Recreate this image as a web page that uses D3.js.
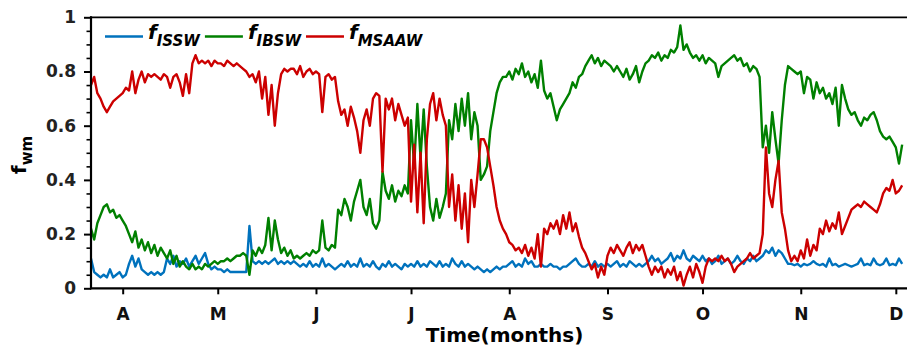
<!DOCTYPE html>
<html><head><meta charset="utf-8">
<script src="https://cdn.jsdelivr.net/npm/d3@7"></script>
<style>
body{margin:0;background:#fff}
svg{display:block}
text{font-family:"DejaVu Sans",sans-serif;font-weight:bold}
</style>
</head><body>
<svg id="chart" width="907" height="348"></svg>
<script>
// ---- data (daily values starting at startDate) ----
const startDate = Date.UTC(2015, 2, 22);
const seriesNames = ["ISSW", "IBSW", "MSAAW"];

const fISSW = [
 0.11,0.06,0.05,0.04,0.05,0.04,0.07,0.04,0.05,0.06,
 0.04,0.05,0.09,0.12,0.08,0.11,0.07,0.06,0.05,0.06,
 0.05,0.06,0.05,0.06,0.11,0.09,0.12,0.08,0.10,0.09,
 0.11,0.08,0.10,0.12,0.09,0.11,0.13,0.09,0.07,0.08,
 0.07,0.07,0.06,0.07,0.06,0.06,0.06,0.06,0.06,0.06,
 0.23,0.10,0.09,0.10,0.09,0.10,0.09,0.10,0.11,0.09,
 0.10,0.09,0.10,0.09,0.10,0.09,0.08,0.09,0.08,0.10,
 0.08,0.09,0.08,0.11,0.08,0.09,0.08,0.07,0.08,0.09,
 0.08,0.10,0.08,0.09,0.08,0.11,0.08,0.09,0.08,0.10,
 0.08,0.07,0.09,0.08,0.10,0.08,0.09,0.08,0.07,0.09,
 0.08,0.09,0.08,0.10,0.08,0.09,0.08,0.10,0.09,0.08,
 0.10,0.08,0.09,0.08,0.11,0.09,0.08,0.10,0.08,0.09,
 0.08,0.07,0.08,0.07,0.06,0.07,0.06,0.07,0.08,0.07,
 0.08,0.08,0.09,0.10,0.08,0.09,0.08,0.11,0.09,0.10,
 0.08,0.08,0.09,0.08,0.08,0.09,0.08,0.08,0.07,0.08,
 0.08,0.09,0.10,0.11,0.09,0.08,0.08,0.09,0.08,0.10,
 0.08,0.09,0.08,0.09,0.08,0.09,0.10,0.08,0.09,0.08,
 0.10,0.09,0.08,0.09,0.08,0.09,0.10,0.12,0.10,0.11,
 0.09,0.10,0.11,0.13,0.10,0.12,0.11,0.14,0.11,0.10,
 0.12,0.11,0.10,0.12,0.10,0.11,0.09,0.10,0.12,0.09,
 0.10,0.11,0.09,0.10,0.12,0.10,0.09,0.11,0.10,0.12,
 0.10,0.11,0.12,0.14,0.13,0.15,0.12,0.14,0.13,0.11,
 0.09,0.09,0.085,0.09,0.08,0.09,0.085,0.09,0.10,0.09,
 0.085,0.09,0.08,0.11,0.085,0.09,0.08,0.085,0.09,0.085,
 0.08,0.085,0.09,0.11,0.085,0.09,0.085,0.11,0.09,0.085,
 0.09,0.11,0.085,0.09,0.085,0.11,0.09
];

const fIBSW = [
 0.22,0.18,0.24,0.27,0.30,0.31,0.28,0.29,0.26,0.27,
 0.25,0.23,0.20,0.17,0.21,0.15,0.18,0.14,0.17,0.13,
 0.16,0.12,0.15,0.13,0.11,0.14,0.09,0.12,0.08,0.10,
 0.08,0.07,0.09,0.07,0.08,0.07,0.09,0.08,0.09,0.10,
 0.09,0.10,0.10,0.11,0.10,0.11,0.12,0.12,0.13,0.12,
 0.05,0.14,0.12,0.15,0.13,0.16,0.26,0.14,0.25,0.18,
 0.13,0.15,0.12,0.14,0.11,0.12,0.11,0.12,0.13,0.12,
 0.14,0.13,0.14,0.25,0.15,0.14,0.16,0.15,0.29,0.27,
 0.33,0.30,0.25,0.32,0.36,0.40,0.30,0.27,0.33,0.24,
 0.22,0.25,0.43,0.36,0.33,0.38,0.32,0.36,0.34,0.38,
 0.35,0.62,0.45,0.68,0.48,0.66,0.45,0.30,0.25,0.33,
 0.26,0.30,0.35,0.62,0.55,0.68,0.58,0.70,0.60,0.72,
 0.55,0.65,0.60,0.40,0.42,0.45,0.58,0.65,0.72,0.76,
 0.78,0.78,0.80,0.77,0.81,0.79,0.83,0.78,0.80,0.76,
 0.79,0.74,0.84,0.73,0.70,0.72,0.67,0.62,0.66,0.68,
 0.70,0.72,0.76,0.74,0.78,0.79,0.82,0.84,0.86,0.83,
 0.85,0.82,0.84,0.83,0.82,0.80,0.82,0.80,0.78,0.81,
 0.77,0.79,0.82,0.76,0.80,0.83,0.84,0.86,0.85,0.87,
 0.84,0.86,0.85,0.88,0.87,0.89,0.97,0.88,0.90,0.87,
 0.85,0.86,0.84,0.86,0.83,0.85,0.84,0.83,0.78,0.82,
 0.83,0.84,0.85,0.86,0.84,0.85,0.82,0.83,0.80,0.82,
 0.81,0.78,0.52,0.60,0.50,0.65,0.55,0.46,0.62,0.75,
 0.82,0.81,0.80,0.79,0.80,0.72,0.78,0.77,0.70,0.76,
 0.72,0.74,0.70,0.72,0.68,0.74,0.60,0.75,0.70,0.66,
 0.64,0.65,0.62,0.60,0.63,0.62,0.64,0.65,0.62,0.58,
 0.56,0.55,0.56,0.54,0.52,0.46,0.53
];

const fMSAAW = [
 0.75,0.78,0.72,0.70,0.67,0.65,0.67,0.69,0.70,0.71,
 0.72,0.74,0.73,0.80,0.72,0.77,0.80,0.76,0.79,0.78,
 0.79,0.78,0.77,0.79,0.78,0.74,0.78,0.79,0.76,0.71,
 0.79,0.72,0.83,0.86,0.83,0.84,0.83,0.84,0.82,0.84,
 0.83,0.83,0.82,0.84,0.83,0.82,0.83,0.82,0.81,0.80,
 0.78,0.79,0.76,0.80,0.70,0.78,0.64,0.75,0.60,0.72,
 0.79,0.81,0.80,0.81,0.81,0.79,0.82,0.78,0.80,0.81,
 0.79,0.80,0.79,0.65,0.78,0.79,0.77,0.78,0.69,0.64,
 0.66,0.60,0.67,0.63,0.58,0.50,0.62,0.66,0.60,0.70,
 0.72,0.71,0.43,0.70,0.66,0.70,0.62,0.68,0.64,0.60,
 0.63,0.32,0.53,0.28,0.50,0.24,0.55,0.68,0.72,0.62,
 0.70,0.64,0.60,0.30,0.42,0.25,0.38,0.22,0.35,0.17,
 0.40,0.30,0.42,0.55,0.55,0.52,0.45,0.38,0.30,0.25,
 0.22,0.20,0.17,0.16,0.14,0.15,0.13,0.16,0.12,0.15,
 0.11,0.20,0.08,0.22,0.20,0.24,0.22,0.25,0.20,0.27,
 0.22,0.28,0.21,0.24,0.19,0.15,0.13,0.10,0.07,0.09,
 0.04,0.08,0.05,0.12,0.15,0.13,0.16,0.14,0.12,0.15,
 0.17,0.13,0.16,0.14,0.16,0.12,0.08,0.05,0.08,0.06,
 0.08,0.04,0.07,0.05,0.08,0.03,0.06,0.01,0.05,0.08,
 0.04,0.09,0.06,0.02,0.08,0.11,0.10,0.11,0.10,0.12,
 0.10,0.11,0.09,0.06,0.08,0.09,0.10,0.11,0.13,0.11,
 0.12,0.13,0.20,0.52,0.35,0.30,0.40,0.47,0.28,0.22,
 0.14,0.10,0.12,0.10,0.14,0.11,0.18,0.12,0.16,0.14,
 0.22,0.20,0.25,0.21,0.24,0.22,0.28,0.20,0.23,0.26,
 0.29,0.30,0.31,0.30,0.32,0.31,0.30,0.29,0.28,0.31,
 0.35,0.37,0.36,0.40,0.35,0.36,0.38
];

const monthTicks = ["2015-04-01","2015-05-01","2015-06-01","2015-07-01","2015-08-01","2015-09-01","2015-10-01","2015-11-01","2015-12-01"];
const monthLabels = ["A","M","J","J","A","S","O","N","D"];
const yTicks = [0, 0.2, 0.4, 0.6, 0.8, 1];
const yTickLabels = ["0","0.2","0.4","0.6","0.8","1"];
const yMinorTicks = [0.05,0.1,0.15,0.25,0.3,0.35,0.45,0.5,0.55,0.65,0.7,0.75,0.85,0.9,0.95];

// ---- drawing ----
(function () {
const svg = d3.select("#chart");
const DAY = 86400000;
const pLeft = 91, pRight = 918, pTop = 17.3, pBottom = 288.3;

const x = d3.scaleUtc()
  .domain([new Date(startDate), new Date(Date.UTC(2015, 11, 8))])
  .range([pLeft, pRight]);
const y = d3.scaleLinear().domain([0, 1]).range([pBottom, pTop]);

const colors = ["#0072BD", "#008000", "#CC0000"];
const allSeries = [fISSW, fIBSW, fMSAAW];

svg.append("defs").append("clipPath").attr("id","clip")
  .append("rect").attr("x", pLeft).attr("y", pTop - 2).attr("width", pRight - pLeft).attr("height", pBottom - pTop + 4);

const line = d3.line()
  .x((d, i) => x(new Date(startDate + i * DAY)))
  .y(d => y(d));

const g = svg.append("g").attr("clip-path", "url(#clip)");
allSeries.forEach((s, k) => {
  g.append("path").datum(s)
    .attr("fill", "none")
    .attr("stroke", colors[k])
    .attr("stroke-width", 2.4)
    .attr("stroke-linejoin", "round")
    .attr("d", line);
});

// axes
const yAxis = d3.axisLeft(y).tickValues(yTicks)
  .tickFormat((d, i) => yTickLabels[i]).tickSize(7).tickSizeOuter(0).tickPadding(8);
const ya = svg.append("g").attr("transform", `translate(${pLeft},0)`).call(yAxis);
ya.select(".domain").remove();
ya.selectAll(".tick line").attr("stroke", "#000").attr("stroke-width", 2);
ya.selectAll(".tick text").attr("font-size", 17).attr("fill", "#222")
  .attr("font-family", "DejaVu Sans").attr("font-weight", "bold");

const yMinor = d3.axisLeft(y).tickValues(yMinorTicks).tickFormat("").tickSize(4.5).tickSizeOuter(0);
const ym = svg.append("g").attr("transform", `translate(${pLeft},0)`).call(yMinor);
ym.select(".domain").remove();
ym.selectAll(".tick line").attr("stroke", "#000").attr("stroke-width", 1.6);

const monthDates = monthTicks.map(s => new Date(s + "T00:00:00Z"));
const xAxis = d3.axisBottom(x).tickValues(monthDates)
  .tickFormat((d, i) => monthLabels[i]).tickSize(6).tickSizeOuter(0).tickPadding(14);
const xa = svg.append("g").attr("transform", `translate(0,${pBottom})`).call(xAxis);
xa.select(".domain").remove();
xa.selectAll(".tick line").attr("stroke", "#000").attr("stroke-width", 2);
xa.selectAll(".tick text").attr("font-size", 17).attr("fill", "#111")
  .attr("font-family", "DejaVu Sans").attr("font-weight", "bold");

// spines
svg.append("line").attr("x1", pLeft).attr("x2", pLeft).attr("y1", pTop - 1).attr("y2", pBottom + 1)
  .attr("stroke", "#000").attr("stroke-width", 2.2);
svg.append("line").attr("x1", pLeft - 1).attr("x2", 907).attr("y1", pBottom).attr("y2", pBottom)
  .attr("stroke", "#000").attr("stroke-width", 2.2);
svg.append("line").attr("x1", pLeft - 1).attr("x2", 907).attr("y1", pTop).attr("y2", pTop)
  .attr("stroke", "#000").attr("stroke-width", 1.8);

// axis titles
svg.append("text").attr("x", (pLeft + pRight) / 2).attr("y", 342)
  .attr("text-anchor", "middle").attr("font-size", 20).attr("fill", "#000")
  .text("Time(months)");

const yl = svg.append("text").attr("transform", "translate(26,174) rotate(-90)")
  .attr("font-size", 20).attr("fill", "#000");
yl.append("tspan").text("f");
yl.append("tspan").attr("font-size", 15).attr("dy", 6).text("wm");

// legend
let cx = 105;
const ly = 36.5;
seriesNames.forEach((name, k) => {
  svg.append("line").attr("x1", cx).attr("x2", cx + 38).attr("y1", ly).attr("y2", ly)
    .attr("stroke", colors[k]).attr("stroke-width", 2.4);
  const t = svg.append("text").attr("x", cx + 43).attr("y", ly + 2)
    .attr("font-size", 20).attr("font-style", "italic").attr("fill", "#000");
  t.append("tspan").text("f");
  t.append("tspan").attr("font-size", 15).attr("dy", 7).text(name);
  cx = cx + 43 + t.node().getComputedTextLength() + 5;
});
})();
</script>
</body></html>
